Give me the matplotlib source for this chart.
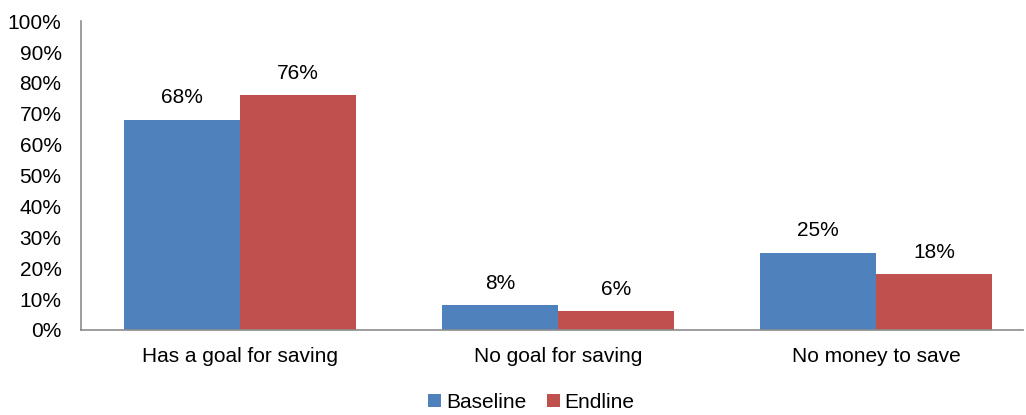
import numpy as np
import matplotlib.pyplot as plt

plt.rcParams['font.family'] = ['Liberation Sans', 'DejaVu Sans']

# Chart data
categories = ['Has a goal for saving', 'No goal for saving', 'No money to save']
baseline = [68, 8, 25]
endline = [76, 6, 18]
series_names = ['Baseline', 'Endline']
colors = ['#4F81BD', '#C0504D']

fig = plt.figure(figsize=(10.26, 4.15), dpi=100)
ax = fig.add_axes([0.079, 0.205, 0.918, 0.744])

x = np.arange(len(categories))
w = 0.365
bars_b = ax.bar(x - w / 2, baseline, w, color=colors[0], label=series_names[0])
bars_e = ax.bar(x + w / 2, endline, w, color=colors[1], label=series_names[1])

for bars, vals in [(bars_b, baseline), (bars_e, endline)]:
    for b, v in zip(bars, vals):
        ax.annotate(f'{v}%', (b.get_x() + b.get_width() / 2, v),
                    xytext=(0, 9), textcoords='offset points',
                    ha='center', va='bottom', fontsize=15)

ax.set_xlim(-0.5, 2.462)
ax.set_ylim(0, 100)
ax.set_yticks(np.arange(0, 101, 10))
ax.set_yticklabels([f'{t}%' for t in range(0, 101, 10)])
ax.set_xticks(x)
ax.set_xticklabels(categories)
ax.tick_params(axis='both', length=0, labelsize=15)
ax.tick_params(axis='x', pad=12)
ax.tick_params(axis='y', pad=14)

for s in ['top', 'right']:
    ax.spines[s].set_visible(False)
for s in ['left', 'bottom']:
    ax.spines[s].set_color('#8C8C8C')
    ax.spines[s].set_linewidth(1.2)

fig.legend(loc='center', bbox_to_anchor=(0.518, 0.03), ncol=2, frameon=False,
           fontsize=15, handlelength=0.6, handleheight=0.6, handletextpad=0.25,
           columnspacing=1.0)

fig.savefig('out.png', dpi=100)
